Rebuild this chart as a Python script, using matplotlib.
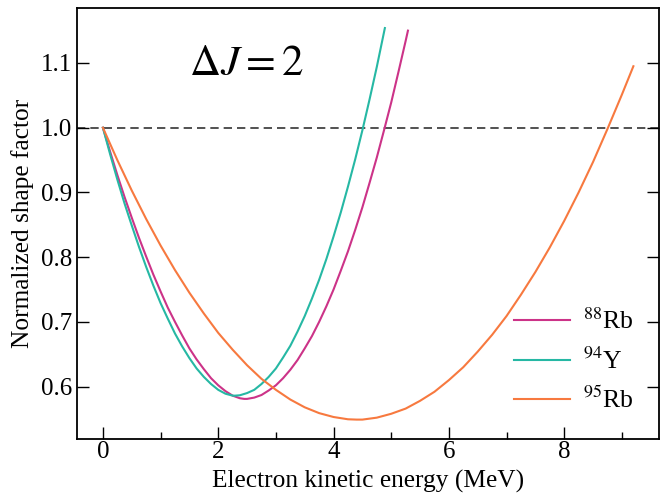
import matplotlib
matplotlib.use("Agg")
import matplotlib.pyplot as plt
from matplotlib.ticker import MultipleLocator

plt.rcParams['font.family'] = ['Liberation Serif', 'DejaVu Serif']
plt.rcParams['mathtext.fontset'] = 'stix'

# ---- data ----
rb88_x = [0.0, 0.125, 0.25, 0.375, 0.5, 0.625, 0.75, 0.875, 1.0, 1.125, 1.25, 1.375,
          1.5, 1.625, 1.75, 1.875, 2.0, 2.125, 2.25, 2.375, 2.45, 2.5, 2.625, 2.75,
          2.875, 3.0, 3.125, 3.25, 3.375, 3.5, 3.625, 3.75, 3.875, 4.0, 4.125, 4.25,
          4.375, 4.5, 4.625, 4.75, 4.875, 5.0, 5.125, 5.25, 5.29]
rb88_y = [1.000, 0.963, 0.927, 0.893, 0.861, 0.830, 0.801, 0.773, 0.747, 0.722, 0.700,
          0.679, 0.659, 0.642, 0.627, 0.613, 0.602, 0.593, 0.586, 0.582, 0.581, 0.581,
          0.583, 0.587, 0.594, 0.602, 0.613, 0.626, 0.641, 0.659, 0.678, 0.700, 0.724,
          0.750, 0.779, 0.809, 0.842, 0.877, 0.915, 0.954, 0.996, 1.039, 1.086, 1.134,
          1.150]

y94_x = [0.0, 0.125, 0.25, 0.375, 0.5, 0.625, 0.75, 0.875, 1.0, 1.125, 1.25, 1.375,
         1.5, 1.625, 1.75, 1.875, 2.0, 2.125, 2.25, 2.29, 2.375, 2.5, 2.625, 2.75,
         2.875, 3.0, 3.125, 3.25, 3.375, 3.5, 3.625, 3.75, 3.875, 4.0, 4.125, 4.25,
         4.375, 4.5, 4.625, 4.75, 4.89]
y94_y = [1.000, 0.959, 0.920, 0.883, 0.849, 0.816, 0.785, 0.756, 0.729, 0.705, 0.682,
         0.662, 0.644, 0.628, 0.615, 0.604, 0.595, 0.589, 0.586, 0.586, 0.5866, 0.590,
         0.595, 0.604, 0.615, 0.628, 0.645, 0.663, 0.685, 0.709, 0.736, 0.765, 0.797,
         0.832, 0.869, 0.909, 0.951, 0.996, 1.044, 1.094, 1.154]

rb95_x = [0.0, 0.25, 0.5, 0.75, 1.0, 1.25, 1.5, 1.75, 2.0, 2.25, 2.5, 2.75, 3.0,
          3.25, 3.5, 3.75, 4.0, 4.25, 4.4, 4.5, 4.75, 5.0, 5.25, 5.5, 5.75, 6.0,
          6.25, 6.5, 6.75, 7.0, 7.25, 7.5, 7.75, 8.0, 8.25, 8.5, 8.75, 9.0, 9.2]
rb95_y = [1.000, 0.950, 0.903, 0.859, 0.818, 0.780, 0.745, 0.713, 0.683, 0.657, 0.633,
          0.612, 0.595, 0.580, 0.568, 0.559, 0.553, 0.5495, 0.549, 0.549, 0.552, 0.558,
          0.566, 0.578, 0.592, 0.610, 0.630, 0.654, 0.680, 0.709, 0.742, 0.777, 0.815,
          0.856, 0.900, 0.947, 0.998, 1.051, 1.095]

labels = [r'$^{88}$Rb', r'$^{94}$Y', r'$^{95}$Rb']
colors = ['#cc3388', '#26b8a4', '#f7793f']

x_ticks = [0, 2, 4, 6, 8]
y_ticks = [0.6, 0.7, 0.8, 0.9, 1.0, 1.1]
y_ticklabels = ['0.6', '0.7', '0.8', '0.9', '1.0', '1.1']

fig = plt.figure(figsize=(6.67, 4.93), dpi=100)
ax = fig.add_axes([0.1154, 0.1095, 0.8731, 0.8743])

ax.axhline(1.0, color='#333333', lw=1.2, ls=(0, (5, 3)), zorder=1)

for xs, ys, lab, c in zip([rb88_x, y94_x, rb95_x], [rb88_y, y94_y, rb95_y], labels, colors):
    ax.plot(xs, ys, color=c, lw=1.5, label=lab, zorder=2)

ax.set_xlim(-0.45, 9.65)
ax.set_ylim(0.519, 1.185)
ax.set_xticks(x_ticks)
ax.set_yticks(y_ticks)
ax.set_yticklabels(y_ticklabels)
ax.xaxis.set_minor_locator(MultipleLocator(1))

ax.tick_params(axis='both', which='major', direction='in', length=8.8, width=1.0,
               labelsize=18)
ax.tick_params(axis='x', which='major', pad=1.5)
ax.tick_params(axis='y', which='major', pad=3.5)
ax.tick_params(axis='x', which='minor', direction='in', length=5, width=1.0)
ax.tick_params(axis='y', which='both', right=True)
for s in ax.spines.values():
    s.set_linewidth(1.3)

ax.set_xlabel('Electron kinetic energy (MeV)', fontsize=18.3, labelpad=5)
ax.set_ylabel('Normalized shape factor', fontsize=18.3, labelpad=5)

ax.text(1.5, 1.097, r'$\Delta J = 2$', fontsize=31, ha='left', va='center')

ax.legend(loc='lower right', frameon=False, fontsize=18.5, handlelength=2.2,
          handletextpad=0.5, labelspacing=0.52, borderaxespad=0.6)

fig.savefig('out.png', dpi=100)
